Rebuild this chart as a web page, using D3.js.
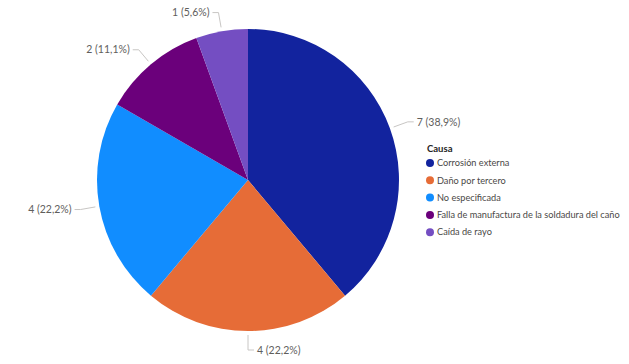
<!DOCTYPE html>
<html lang="es">
<head>
<meta charset="UTF-8">
<title>Causa</title>
<script src="https://d3js.org/d3.v7.min.js"></script>
<style>
  body { margin: 0; background: #fff; }
  text { font-family: "Segoe UI", Lato, sans-serif; }
</style>
</head>
<body>
<svg id="chart" width="629" height="364"></svg>
<script>
  // data
  const causas = ["Corrosión externa", "Daño por tercero", "No especificada",
                  "Falla de manufactura de la soldadura del caño", "Caída de rayo"];
  const cantidades = [7, 4, 4, 2, 1];
  const colores = ["#12239E", "#E66C37", "#118DFF", "#6B007B", "#744EC2"];

  const svg = d3.select("#chart");
  const cx = 248, cy = 180, r = 151;

  const total = d3.sum(cantidades);
  const datos = causas.map((c, i) => ({ causa: c, valor: cantidades[i], color: colores[i] }));

  const pie = d3.pie().sort(null).value(d => d.valor);
  const arcs = pie(datos);
  const arc = d3.arc().innerRadius(0).outerRadius(r);

  const g = svg.append("g").attr("transform", `translate(${cx},${cy})`);

  g.selectAll("path.slice")
    .data(arcs)
    .enter().append("path")
    .attr("class", "slice")
    .attr("d", arc)
    .attr("fill", d => d.data.color);

  // point at radius rr on the middle of a slice
  function punto(d, rr) {
    const a = (d.startAngle + d.endAngle) / 2;
    return [rr * Math.sin(a), -rr * Math.cos(a)];
  }
  const fmt = v => (v / total * 100).toFixed(1).replace(".", ",");

  arcs.forEach(d => {
    const p1 = punto(d, r + 4);
    const p2 = punto(d, r + 19);
    const derecha = p2[0] >= 0;
    const p3 = [p2[0] + (derecha ? 6 : -6), p2[1]];
    g.append("polyline")
      .attr("points", [p1, p2, p3].map(p => p.join(",")).join(" "))
      .attr("fill", "none")
      .attr("stroke", "#c8c6c4")
      .attr("stroke-width", 1);
    g.append("text")
      .attr("x", p3[0] + (derecha ? 3 : -3))
      .attr("y", p3[1])
      .attr("dy", "0.35em")
      .attr("text-anchor", derecha ? "start" : "end")
      .attr("fill", "#605e5c")
      .style("font-size", "10.5px")
      .text(`${d.data.valor} (${fmt(d.data.valor)}%)`);
  });

  // legend
  const lg = svg.append("g").attr("transform", "translate(426,149)");
  lg.append("text")
    .attr("x", 1).attr("y", 0).attr("dy", "0.35em")
    .attr("fill", "#252423")
    .style("font-size", "9.5px").style("font-weight", "bold")
    .text("Causa");
  const item = lg.selectAll("g.item")
    .data(datos)
    .enter().append("g")
    .attr("class", "item")
    .attr("transform", (d, i) => `translate(0,${14 + i * 17.3})`);
  item.append("circle").attr("cx", 4).attr("cy", 0).attr("r", 4).attr("fill", d => d.color);
  item.append("text")
    .attr("x", 11).attr("y", 0).attr("dy", "0.35em")
    .attr("fill", "#4a4846")
    .style("font-size", "9.2px")
    .text(d => d.causa);
</script>
</body>
</html>
